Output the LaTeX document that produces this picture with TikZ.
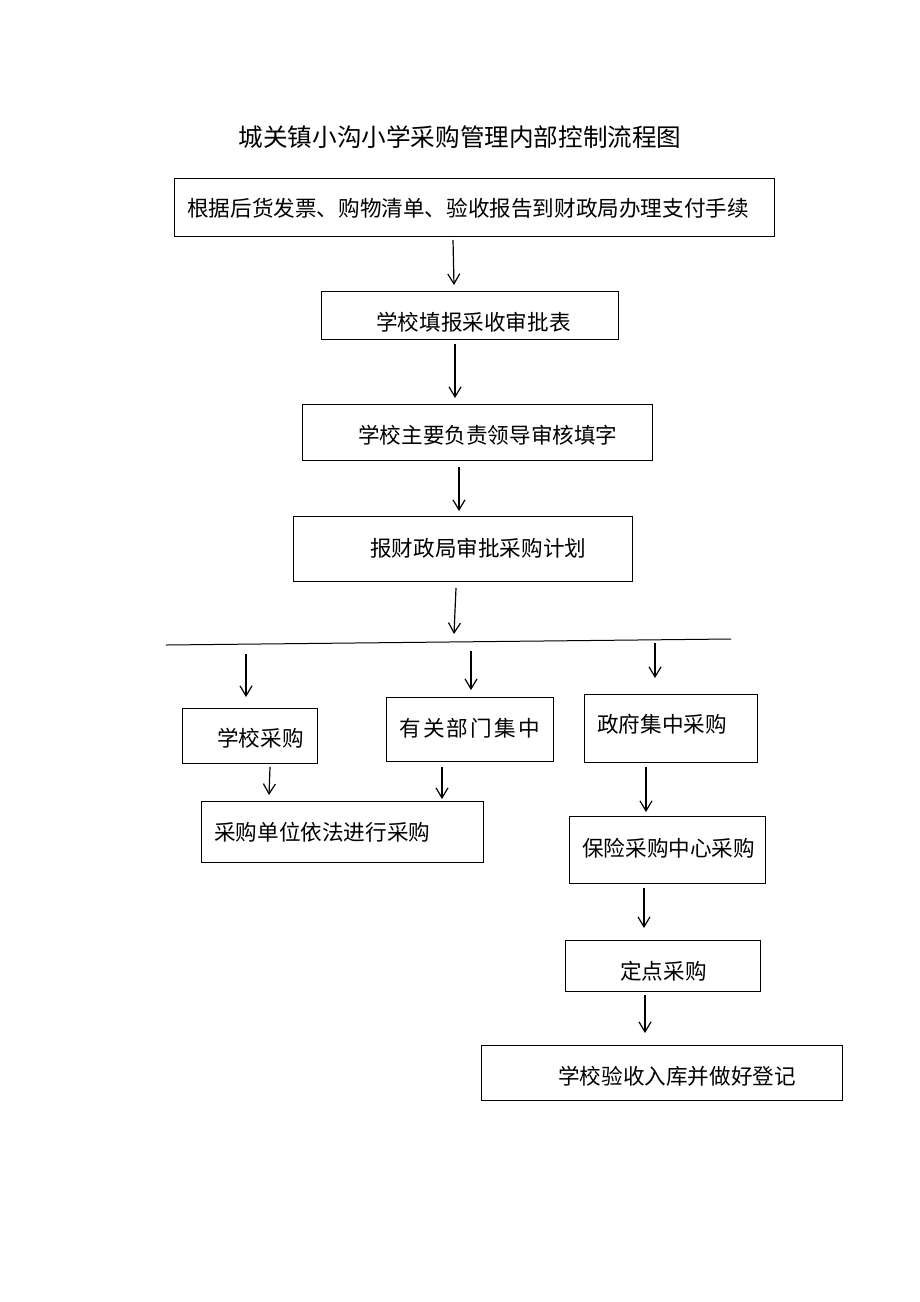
\documentclass[tikz,border=0pt]{standalone}
\usepackage{fontspec}
\setmainfont{Noto Sans CJK SC}
\usetikzlibrary{arrows.meta}
\begin{document}
\begin{tikzpicture}[x=1pt,y=-1pt,
  box/.style={draw,line width=1pt,inner sep=0pt,anchor=north west},
  txt/.style={anchor=west,inner sep=0pt,font=\fontsize{21.6}{24}\selectfont},
  arr/.style={line width=1.2pt,-{Straight Barb[length=10pt,width=12pt,line width=1.2pt]}}]
\useasboundingbox (0,0) rectangle (920,1302);
\node[anchor=center,inner sep=0pt,font=\fontsize{24.6}{28}\selectfont] (title) at (460,137) {城关镇小沟小学采购管理内部控制流程图};
% boxes
\node[box,minimum width=600pt,minimum height=58pt] (b1) at (174,178) {};
\node[txt] (t1) at (187,208) {根据后货发票、购物清单、验收报告到财政局办理支付手续};
\node[box,minimum width=297pt,minimum height=48pt] (b2) at (321,291) {};
\node[txt] (t2) at (376,322) {学校填报采收审批表};
\node[box,minimum width=350pt,minimum height=56pt] (b3) at (302,404) {};
\node[txt] (t3) at (358,435) {学校主要负责领导审核填字};
\node[box,minimum width=339pt,minimum height=65pt] (b4) at (293,516) {};
\node[txt] (t4) at (370,548) {报财政局审批采购计划};
\coordinate (l1) at (166,645);
\coordinate (l2) at (731,639);
\draw[line width=1pt] (l1) -- (l2);
\node[box,minimum width=135pt,minimum height=55pt] (b5) at (182,708) {};
\node[txt] (t5) at (217,738) {学校采购};
\node[box,minimum width=167pt,minimum height=64pt] (b6) at (386,697) {};
\node[txt] (t6) at (399,728) {有\kern2.3pt 关\kern2.3pt 部\kern2.3pt 门\kern2.3pt 集\kern2.3pt 中};
\node[box,minimum width=173pt,minimum height=68pt] (b7) at (584,694) {};
\node[txt] (t7) at (597,724) {政府集中采购};
\node[box,minimum width=282pt,minimum height=61pt] (b8) at (201,801) {};
\node[txt] (t8) at (214,832) {采购单位依法进行采购};
\node[box,minimum width=196pt,minimum height=67pt] (b9) at (569,816) {};
\node[txt] (t9) at (582,848) {保险采购中心采购};
\node[box,minimum width=195pt,minimum height=51pt] (b10) at (565,940) {};
\node[txt] (t10) at (620,971) {定点采购};
\node[box,minimum width=361pt,minimum height=55pt] (b11) at (481,1045) {};
\node[txt] (t11) at (558,1076) {学校验收入库并做好登记};
% arrows
\coordinate (a1s) at (453,240); \coordinate (a1e) at (454,285);
\coordinate (a2s) at (455,344); \coordinate (a2e) at (455,398);
\coordinate (a3s) at (459,467); \coordinate (a3e) at (459,511);
\coordinate (a4s) at (456,588); \coordinate (a4e) at (454,634);
\coordinate (a5s) at (246,654); \coordinate (a5e) at (246,697);
\coordinate (a6s) at (471,651); \coordinate (a6e) at (471,690);
\coordinate (a7s) at (655,643); \coordinate (a7e) at (655,678);
\coordinate (a8s) at (270,767); \coordinate (a8e) at (269,795);
\coordinate (a9s) at (442,767); \coordinate (a9e) at (442,799);
\coordinate (a10s) at (646,767); \coordinate (a10e) at (646,812);
\coordinate (a11s) at (644,888); \coordinate (a11e) at (644,928);
\coordinate (a12s) at (645,995); \coordinate (a12e) at (645,1033);
\foreach \i in {1,...,12} \draw[arr] (a\i s) -- (a\i e);
\end{tikzpicture}
\end{document}
